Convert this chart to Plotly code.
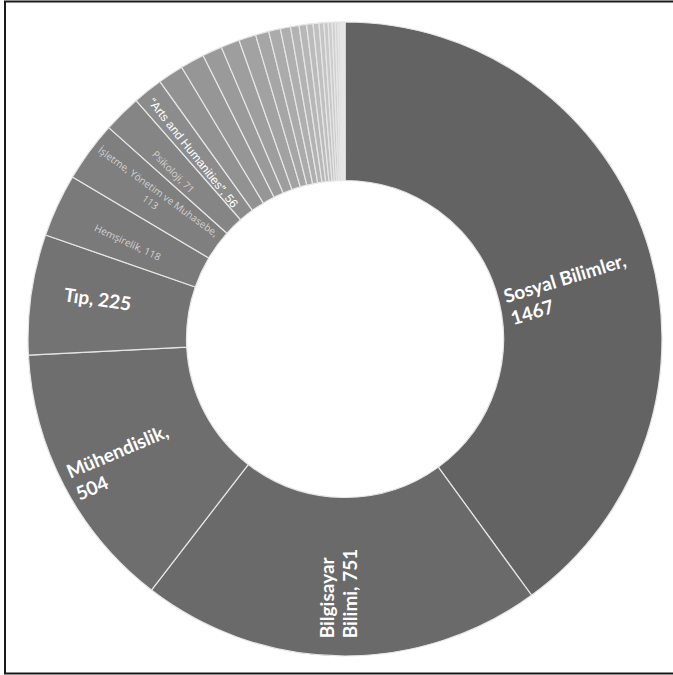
import math
import plotly.graph_objects as go

categories = [
    "Sosyal Bilimler", "Bilgisayar Bilimi", "Mühendislik", "Tıp", "Hemşirelik",
    "İşletme, Yönetim ve Muhasebe", "Psikoloji", "“Arts and Humanities”",
    "Diğer 1", "Diğer 2", "Diğer 3", "Diğer 4", "Diğer 5", "Diğer 6", "Diğer 7",
    "Diğer 8", "Diğer 9", "Diğer 10", "Diğer 11", "Diğer 12", "Diğer 13", "Diğer 14",
    "Diğer 15", "Diğer 16", "Diğer 17", "Diğer 18", "Diğer 19", "Diğer 20",
    "Diğer 21", "Diğer 22", "Diğer 23",
]
values = [1467, 751, 504, 225, 118, 113, 71, 56,
          48, 45, 37, 35, 32, 25, 22, 19, 16, 14, 12, 11, 9, 8, 7, 6, 5, 4, 3, 2, 2, 1, 1]
# label lines (first 8 slices)
label_lines = [
    ["Sosyal Bilimler,", "1467"],
    ["Bilgisayar", "Bilimi, 751"],
    ["Mühendislik,", "504"],
    ["Tıp, 225"],
    ["Hemşirelik, 118"],
    ["İşletme, Yönetim ve Muhasebe,", "113"],
    ["Psikoloji, 71"],
    ["“Arts and Humanities”, 56"],
]

# ---- styling (not data) ----
n = len(values)
base_grays = [99, 106, 110, 115, 122, 127, 133, 140]
n_small = n - len(base_grays)
grays = base_grays + [int(146 + (238 - 146) * i / (n_small - 1)) for i in range(n_small)]
colors = [f"rgb({g},{g},{g})" for g in grays]

W, H = 673, 675
ML, MR, MT, MB = 28, 11, 21, 18
PW, PH = W - ML - MR, H - MT - MB
CX, CY = ML + PW / 2, MT + PH / 2

# Label style: anchor = (angle offset from slice middle, radius px)
# left-aligned labels: anchor is start of first line (mid height); box width bw
# centred labels: anchor is centre of text block
label_style = [
    dict(off=3.0, r=167, ta=-17, fs=19, col="white", fam="Lato", bold=True, left=True, bw=140, lh=23),
    dict(off=2.7, r=298, ta=-90, fs=19, col="white", fam="Lato", bold=True, left=True, bw=110, lh=23),
    dict(off=2.0, r=306, ta=-23, fs=19, col="white", fam="Lato", bold=True, left=True, bw=135, lh=23),
    dict(off=1.1, r=251, ta=8, fs=19, col="white", fam="Lato", bold=True, left=False),
    dict(off=-0.8, r=238, ta=25, fs=10, col="#d2d2d2", fam="Open Sans", bold=False, left=False),
    dict(off=0.6, r=238, ta=36, fs=10, col="#d2d2d2", fam="Open Sans", bold=False, left=False),
    dict(off=-1.0, r=239, ta=45, fs=10, col="#d2d2d2", fam="Open Sans", bold=False, left=False),
    dict(off=-0.8, r=240, ta=51.5, fs=12, col="white", fam="Arial", bold=False, left=False),
]

fig = go.Figure(go.Pie(
    labels=categories,
    values=values,
    textinfo="none",
    hole=0.5,
    sort=False,
    direction="clockwise",
    rotation=0,
    marker=dict(colors=colors, line=dict(color="#e6e6e6", width=1.2)),
    showlegend=False,
    hoverinfo="label+value",
))


def to_paper(px, py):
    return (px - ML) / PW, 1 - (py - MT) / PH


total = sum(values)
annotations = []
cum = 0.0
for i, v in enumerate(values):
    start = cum / total * 360
    cum += v
    end = cum / total * 360
    if i >= len(label_lines):
        continue
    st = label_style[i]
    mid = (start + end) / 2
    ang = math.radians(mid + st["off"])
    ax_px = CX + st["r"] * math.sin(ang)
    ay_px = CY - st["r"] * math.cos(ang)
    font = dict(size=st["fs"], color=st["col"], family=st["fam"])
    lines = label_lines[i]
    if st["left"]:
        t = math.radians(st["ta"])
        ux, uy = math.cos(t), math.sin(t)
        vx, vy = -math.sin(t), math.cos(t)
        for k, line in enumerate(lines):
            cx = ax_px + ux * (st["bw"] / 2 - 2) + vx * st["lh"] * k
            cy = ay_px + uy * (st["bw"] / 2 - 2) + vy * st["lh"] * k
            x, y = to_paper(cx, cy)
            txt = "<b>" + line + "</b>" if st["bold"] else line
            annotations.append(dict(
                x=x, y=y, xref="paper", yref="paper", text=txt, showarrow=False,
                textangle=st["ta"], align="left", width=st["bw"], font=font,
                xanchor="center", yanchor="middle",
            ))
    else:
        x, y = to_paper(ax_px, ay_px)
        txt = "<br>".join(lines)
        if st["bold"]:
            txt = "<b>" + txt + "</b>"
        annotations.append(dict(
            x=x, y=y, xref="paper", yref="paper", text=txt, showarrow=False,
            textangle=st["ta"], align="center", font=font,
            xanchor="center", yanchor="middle",
        ))

fig.update_layout(
    width=W, height=H,
    margin=dict(l=ML, r=MR, t=MT, b=MB),
    paper_bgcolor="white", plot_bgcolor="white",
    annotations=annotations,
    shapes=[dict(type="rect", xref="paper", yref="paper",
                 x0=(5 - ML) / PW, x1=1.06, y0=1 - (673.5 - MT) / PH, y1=1 - (1.5 - MT) / PH,
                 line=dict(color="#1a1a1a", width=2), fillcolor="rgba(0,0,0,0)")],
)

fig.write_html("out.html")
